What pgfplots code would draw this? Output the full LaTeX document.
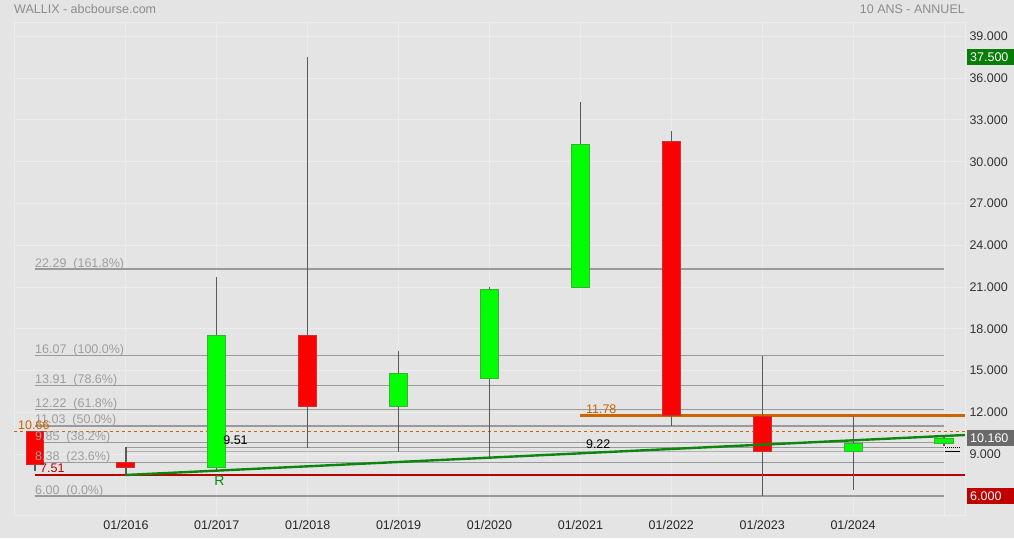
\documentclass[border=0pt]{standalone}
\usepackage{fontspec}
\setmainfont{Liberation Sans}
\usepackage{pgfplots}
\pgfplotsset{compat=1.18}

\definecolor{bgc}{HTML}{E4E4E4}
\definecolor{gridc}{HTML}{ECECEC}
\definecolor{fibc}{HTML}{9A9A9A}
\definecolor{fibtxt}{HTML}{9E9E9E}
\definecolor{upfill}{HTML}{00FF00}
\definecolor{updraw}{HTML}{3AAE3A}
\definecolor{dnfill}{HTML}{FF0000}
\definecolor{dndraw}{HTML}{C43434}
\definecolor{wickc}{HTML}{5A5A5A}
\definecolor{trendc}{HTML}{0E860E}
\definecolor{orangec}{HTML}{CC6600}
\definecolor{supc}{HTML}{BB0000}
\definecolor{titlec}{HTML}{8C8C8C}
\definecolor{boxgreen}{HTML}{087C08}
\definecolor{boxgrey}{HTML}{6A6A6A}
\definecolor{boxred}{HTML}{C00000}

\newcommand{\fsz}{\fontsize{12.5}{14}\selectfont}

\begin{document}
\begin{tikzpicture}
\fill[bgc] (0pt,0pt) rectangle (1014pt,538pt);
\useasboundingbox (0pt,0pt) rectangle (1014pt,538pt);
\node[anchor=west, text=titlec, font=\fsz, inner sep=0] at (14pt,529pt) {WALLIX - abcbourse.com};
\node[anchor=east, text=titlec, font=\fsz, inner sep=0] at (965pt,529pt) {10 ANS - ANNUEL};

\begin{axis}[
  at={(14pt,23pt)}, anchor=south west,
  scale only axis, width=951pt, height=493pt,
  xmin=-0.231, xmax=10.231,
  ymin=4.636, ymax=40.03,
  clip=false,
  axis line style={gridc},
  major tick length=0pt,
  grid=major,
  major grid style={gridc, line width=1pt},
  xtick={1,...,10},
  xticklabels={01/2016,01/2017,01/2018,01/2019,01/2020,01/2021,01/2022,01/2023,01/2024,{}},
  xticklabel style={font=\fsz, text=black!85, yshift=-2pt},
  ytick={9,12,...,39},
  yticklabel pos=right,
  yticklabel style={font=\fsz, text=black!80, xshift=1pt},
  /pgf/number format/assume math mode=true,
  yticklabel={\pgfmathprintnumber[fixed, fixed zerofill, precision=3, 1000 sep={}]{\tick}},
]

% Fibonacci levels
\addplot[fibc, line width=1.2pt] coordinates {(0,22.29) (10,22.29)};
\addplot[fibc, line width=1.2pt] coordinates {(0,16.07) (10,16.07)};
\addplot[fibc, line width=1.2pt] coordinates {(0,13.91) (10,13.91)};
\addplot[fibc, line width=1.2pt] coordinates {(0,12.22) (10,12.22)};
\addplot[fibc, line width=1.2pt] coordinates {(0,11.03) (10,11.03)};
\addplot[fibc, line width=1.2pt] coordinates {(0,9.85) (10,9.85)};
\addplot[fibc, line width=1.2pt] coordinates {(0,8.38) (10,8.38)};
\addplot[fibc, line width=1.2pt] coordinates {(0,6.00) (10,6.00)};
% pivot lines
\addplot[fibc, line width=1.2pt] coordinates {(1,9.51) (10,9.51)};
\addplot[black!30, line width=1pt] coordinates {(1,9.22) (10,9.22)};
\addplot[black, densely dotted, line width=1pt] coordinates {(10.01,9.51) (10.18,9.51)};
\addplot[black, line width=1pt] coordinates {(10.01,9.16) (10.18,9.16)};

% support / resistance
\addplot[supc, line width=1.2pt] coordinates {(0,7.51) (10.231,7.51)};
\addplot[orangec, line width=1.1pt, dash pattern=on 3pt off 3pt] coordinates {(-0.231,10.66) (10.231,10.66)};
\addplot[orangec, line width=2.6pt] coordinates {(6,11.78) (10.231,11.78)};

% wicks (year index, low -> high)
\addplot[wickc, line width=1.2pt] coordinates {(0,7.78) (0,10.66)};
\addplot[wickc, line width=1.2pt] coordinates {(1,7.51) (1,9.51)};
\addplot[wickc, line width=1.2pt] coordinates {(2,7.87) (2,21.72)};
\addplot[wickc, line width=1.2pt] coordinates {(3,9.45) (3,37.50)};
\addplot[wickc, line width=1.2pt] coordinates {(4,9.16) (4,16.41)};
\addplot[wickc, line width=1.2pt] coordinates {(5,8.80) (5,21.00)};
\addplot[wickc, line width=1.2pt] coordinates {(6,20.95) (6,34.28)};
\addplot[wickc, line width=1.2pt] coordinates {(7,11.03) (7,32.20)};
\addplot[wickc, line width=1.2pt] coordinates {(8,6.00) (8,16.07)};
\addplot[wickc, line width=1.2pt] coordinates {(9,6.43) (9,11.74)};
\addplot[wickc, line width=1.2pt] coordinates {(10,9.60) (10,10.22)};

% bodies (open -> close)
\addplot[fill=dnfill, draw=dndraw, line width=1pt] coordinates {(-0.09,10.66) (0.09,10.66) (0.09,8.28) (-0.09,8.28)} --cycle;
\addplot[fill=dnfill, draw=dndraw, line width=1pt] coordinates {(0.9,8.44) (1.1,8.44) (1.1,8.08) (0.9,8.08)} --cycle;
\addplot[fill=upfill, draw=updraw, line width=1pt] coordinates {(1.9,8.08) (2.1,8.08) (2.1,17.49) (1.9,17.49)} --cycle;
\addplot[fill=dnfill, draw=dndraw, line width=1pt] coordinates {(2.9,17.49) (3.1,17.49) (3.1,12.39) (2.9,12.39)} --cycle;
\addplot[fill=upfill, draw=updraw, line width=1pt] coordinates {(3.9,12.39) (4.1,12.39) (4.1,14.76) (3.9,14.76)} --cycle;
\addplot[fill=upfill, draw=updraw, line width=1pt] coordinates {(4.9,14.40) (5.1,14.40) (5.1,20.86) (4.9,20.86)} --cycle;
\addplot[fill=upfill, draw=updraw, line width=1pt] coordinates {(5.9,21.00) (6.1,21.00) (6.1,31.27) (5.9,31.27)} --cycle;
\addplot[fill=dnfill, draw=dndraw, line width=1pt] coordinates {(6.9,31.48) (7.1,31.48) (7.1,11.78) (6.9,11.78)} --cycle;
\addplot[fill=dnfill, draw=dndraw, line width=1pt] coordinates {(7.9,11.70) (8.1,11.70) (8.1,9.22) (7.9,9.22)} --cycle;
\addplot[fill=upfill, draw=updraw, line width=1pt] coordinates {(8.9,9.22) (9.1,9.22) (9.1,9.80) (8.9,9.80)} --cycle;
\addplot[fill=upfill, draw=updraw, line width=1pt] coordinates {(9.9,9.80) (10.1,9.80) (10.1,10.16) (9.9,10.16)} --cycle;

% trend line
\addplot[trendc, line width=2.4pt] coordinates {(1,7.51) (10.231,10.38)};

% labels
\node[anchor=base west, inner sep=0, yshift=2pt, font=\fsz, text=fibtxt] at (axis cs:0,22.29) {22.29\ \ (161.8\%)};
\node[anchor=base west, inner sep=0, yshift=2pt, font=\fsz, text=fibtxt] at (axis cs:0,16.07) {16.07\ \ (100.0\%)};
\node[anchor=base west, inner sep=0, yshift=2pt, font=\fsz, text=fibtxt] at (axis cs:0,13.91) {13.91\ \ (78.6\%)};
\node[anchor=base west, inner sep=0, yshift=2pt, font=\fsz, text=fibtxt] at (axis cs:0,12.22) {12.22\ \ (61.8\%)};
\node[anchor=base west, inner sep=0, yshift=2pt, font=\fsz, text=fibtxt] at (axis cs:0,11.03) {11.03\ \ (50.0\%)};
\node[anchor=base west, inner sep=0, yshift=2pt, font=\fsz, text=fibtxt] at (axis cs:0,9.85) {9.85\ \ (38.2\%)};
\node[anchor=base west, inner sep=0, yshift=2pt, font=\fsz, text=fibtxt] at (axis cs:0,8.38) {8.38\ \ (23.6\%)};
\node[anchor=base west, inner sep=0, yshift=2pt, font=\fsz, text=fibtxt] at (axis cs:0,6.00) {6.00\ \ (0.0\%)};

\node[anchor=base west, inner sep=0, yshift=2pt, font=\fsz, text=orangec] at (axis cs:-0.187,10.66) {10.66};
\node[anchor=base west, inner sep=0, yshift=2pt, font=\fsz, text=supc] at (axis cs:0.055,7.51) {7.51};
\node[anchor=base west, inner sep=0, yshift=2.5pt, font=\fsz, text=black] at (axis cs:2.07,9.51) {9.51};
\node[anchor=base west, inner sep=0, yshift=3pt, font=\fsz, text=black] at (axis cs:6.06,9.22) {9.22};
\node[anchor=base west, inner sep=0, yshift=2pt, font=\fsz, text=orangec] at (axis cs:6.06,11.78) {11.78};
\node[inner sep=0, font=\fontsize{14}{16}\selectfont, text=trendc] at (axis cs:2.03,7.12) {R};

% price boxes on the right scale
\node[anchor=west, xshift=2pt, fill=boxgreen, text=white, font=\fsz, inner xsep=3pt, minimum height=16pt, text width=44pt] at (axis cs:10.231,37.5) {37.500};
\node[anchor=west, xshift=2pt, fill=boxgrey, text=white, font=\fsz, inner xsep=3pt, minimum height=16pt, text width=44pt] at (axis cs:10.231,10.16) {10.160};
\node[anchor=west, xshift=2pt, fill=boxred, text=white, font=\fsz, inner xsep=3pt, minimum height=16pt, text width=44pt] at (axis cs:10.231,6.0) {6.000};
\end{axis}
\end{tikzpicture}
\end{document}
